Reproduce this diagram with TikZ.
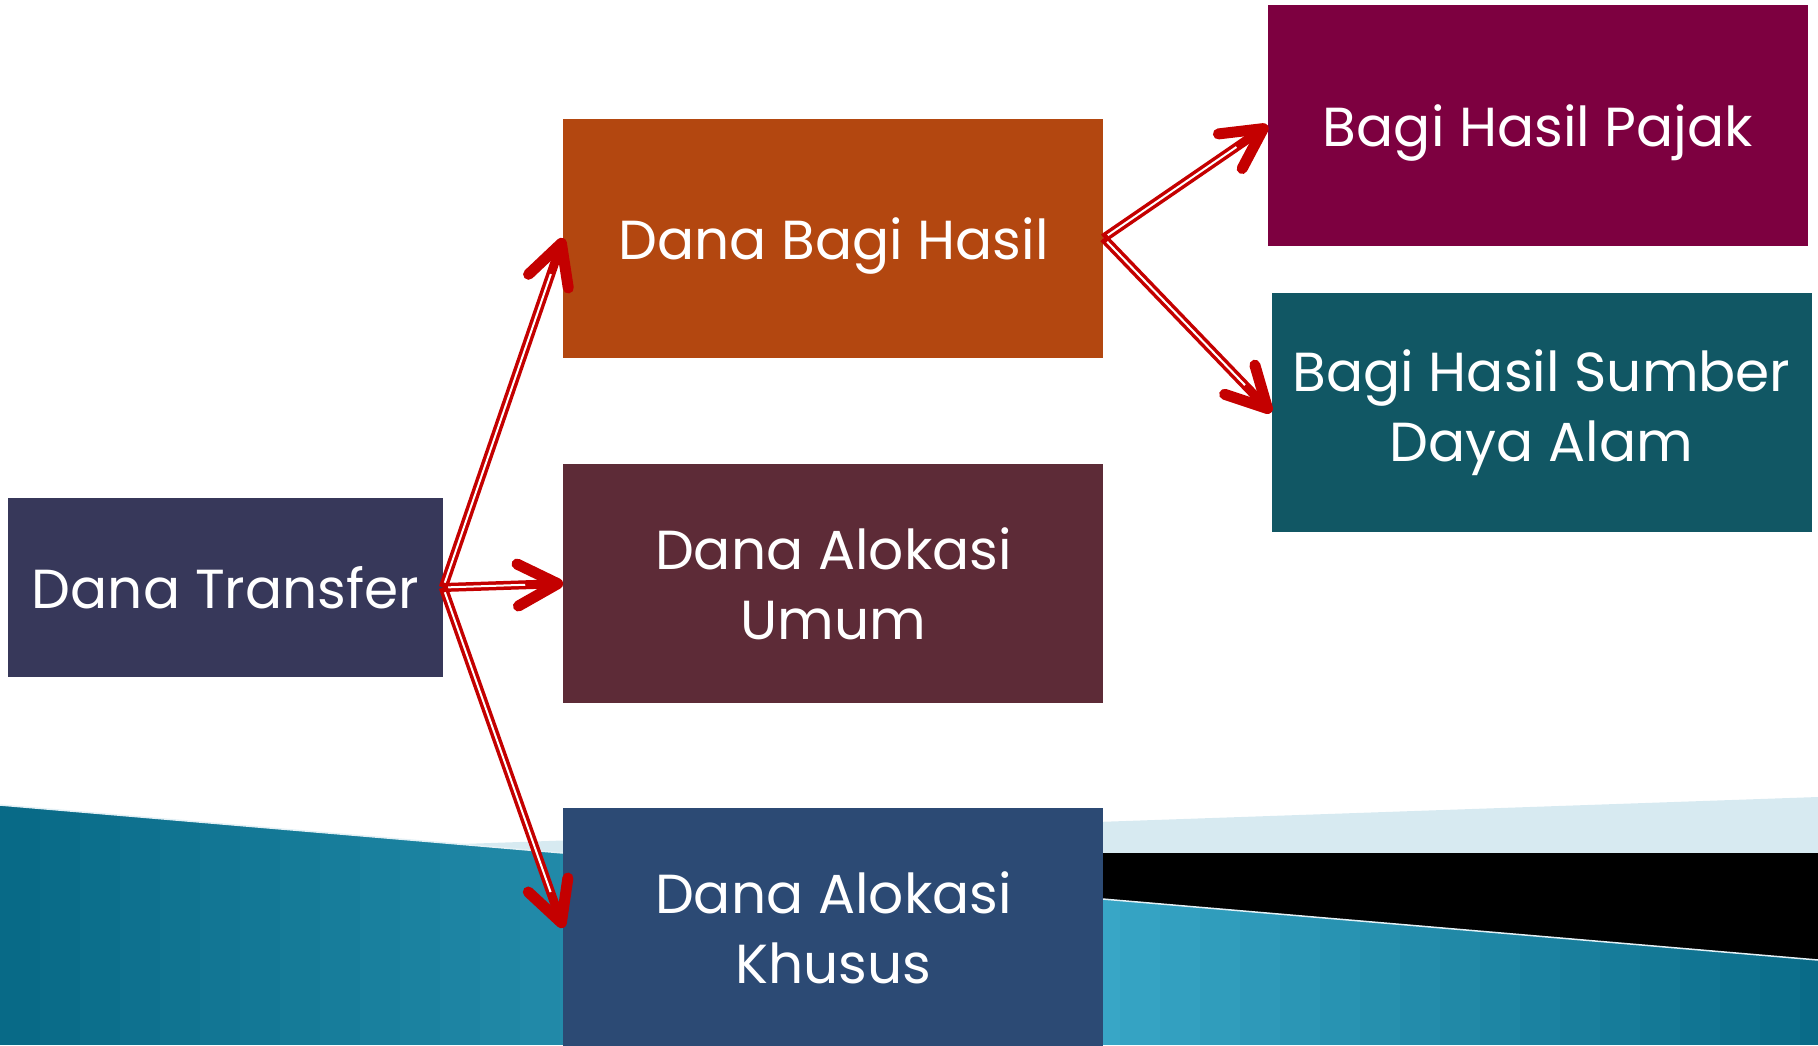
\documentclass[tikz,border=0pt]{standalone}
\usepackage{fontspec}
\setmainfont{Poppins}
\usepackage{tikz}
\usetikzlibrary{arrows.meta, positioning}
\definecolor{trfblue}{HTML}{37385A}
\definecolor{dbhorange}{HTML}{B34710}
\definecolor{daumaroon}{HTML}{5D2B37}
\definecolor{dakblue}{HTML}{2C4A74}
\definecolor{pajakpurple}{HTML}{7D0040}
\definecolor{sdateal}{HTML}{115764}
\definecolor{arrowred}{HTML}{C40000}
\definecolor{waveteal}{HTML}{086A87}
\definecolor{wavelight}{HTML}{3AA9C9}
\definecolor{paleblue}{HTML}{D7EAF1}
\tikzset{
    fundbox/.style={rectangle, inner sep=0pt, minimum width=540pt, minimum height=239pt, align=center, text=white, font=\fontsize{55}{70}\selectfont},
    link/.style={draw=arrowred, line width=9pt, -{Straight Barb[round, length=40pt, width=42pt, line width=11pt]},
        postaction={draw=white, line width=2pt, -, shorten >=38pt, shorten <=5pt}}
}
\begin{document}
\begin{tikzpicture}[x=1pt, y=-1pt]
        \useasboundingbox (0,0) rectangle (1818,1045);

        % --- Background wave ---
        \fill[paleblue] (0,860) -- (1818,797) -- (1818,1045) -- (0,1045) -- cycle;
        \fill[black] (0,853) rectangle (1818,1045);
        \begin{scope}
            \clip (0,805) -- (1818,960) -- (1818,1045) -- (0,1045) -- cycle;
            % strips from dark to light and back
            \foreach \i in {0,...,45} {
                \pgfmathsetmacro\p{\i*40<1050 ? (\i*40/1050)*100 : ((1818-\i*40)/770)*100}
                \fill[wavelight!\p!waveteal] (\i*40,790) rectangle (\i*40+41,1045);
            }
        \end{scope}
        \draw[paleblue!70!white, line width=1.5pt] (0,805) -- (1818,960);

        % --- Level 1 ---
        \node (trf) [fundbox, fill=trfblue, minimum width=435pt, minimum height=179pt] at (225.5,587.5) {Dana Transfer};

        % --- Level 2 ---
        \node (dau) [fundbox, fill=daumaroon, right=120pt of trf, yshift=4pt] {Dana Alokasi\\Umum};
        \node (dbh) [fundbox, fill=dbhorange, text depth=0pt, above=106pt of dau] {Dana Bagi Hasil};
        \node (dak) [fundbox, fill=dakblue, below=105pt of dau] {Dana Alokasi\\Khusus};

        % --- Level 3 ---
        \node (pajak) [fundbox, fill=pajakpurple, text depth=0pt, minimum height=241pt] at (1538,125.5) {Bagi Hasil Pajak};
        \node (sda) [fundbox, fill=sdateal] at (1541.5,412.5) {Bagi Hasil Sumber\\Daya Alam};

        % --- Arrows ---
        \draw [link] (trf.east) -- (dbh.west);
        \draw [link] (trf.east) -- (dau.west);
        \draw [link] (trf.east) -- (dak.west);
        \draw [link] (dbh.east) -- (pajak.west);
        \draw [link] (dbh.east) -- (sda.west);
    \end{tikzpicture}
\end{document}
